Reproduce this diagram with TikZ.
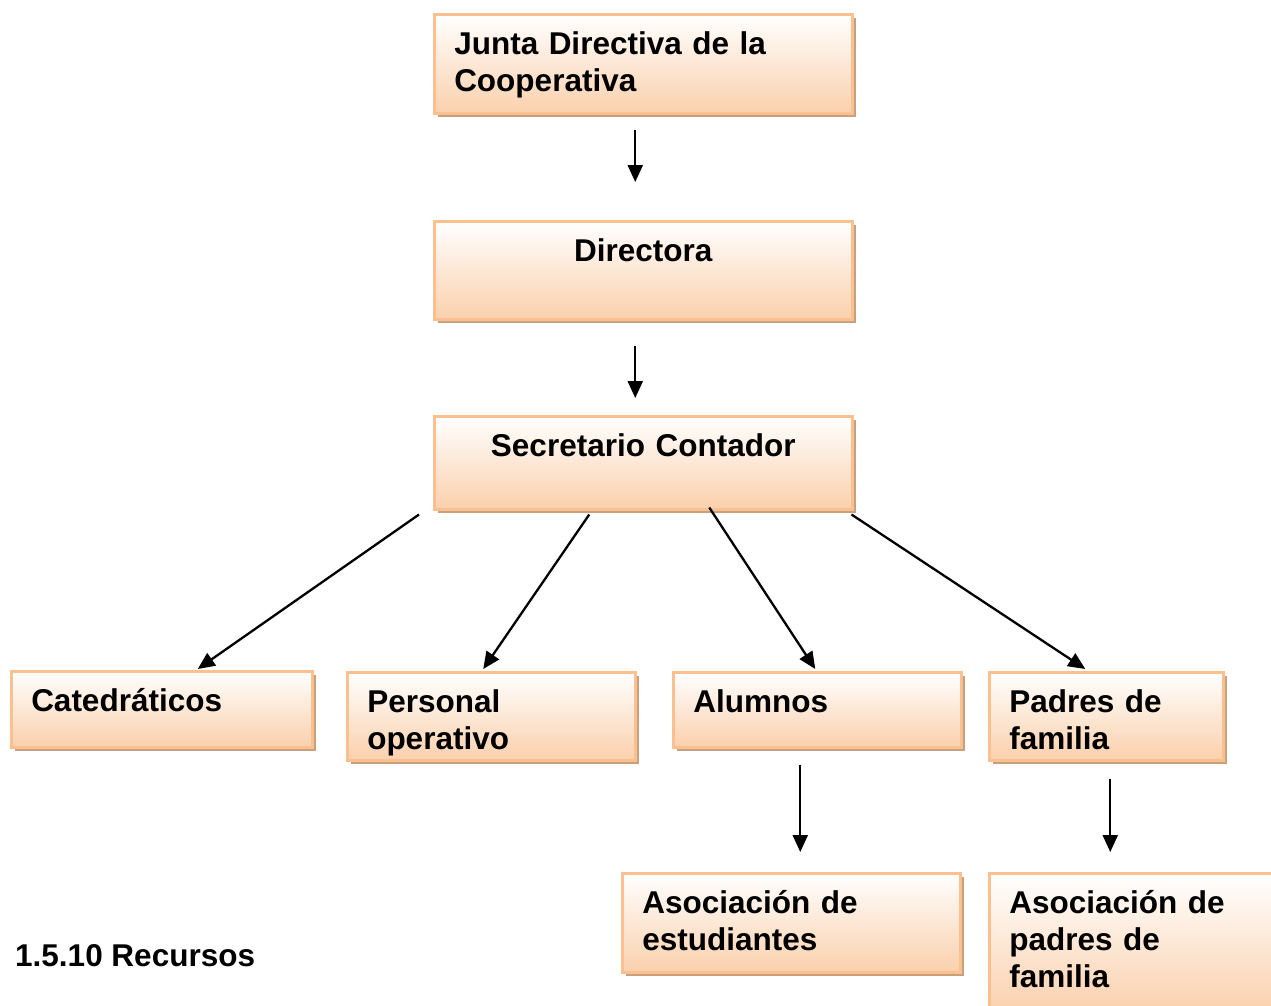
\documentclass[tikz,border=0pt]{standalone}
\usepackage{fontspec}
\setmainfont{Liberation Sans}
\usetikzlibrary{arrows.meta,shadows,calc,positioning}

\definecolor{borde}{RGB}{250,192,143}
\definecolor{fondo}{RGB}{250,208,172}
\definecolor{sombra}{RGB}{201,160,126}

\tikzset{
  caja/.style={anchor=north west, draw=borde, line width=2.5pt,
    top color=white, bottom color=fondo,
    drop shadow={shadow xshift=4pt, shadow yshift=-4pt, fill=sombra, opacity=1},
    inner xsep=20pt, inner ysep=0pt, text height=40pt, align=left,
    font=\fontsize{31.5}{37}\selectfont\bfseries},
  flecha/.style={-{Triangle[width=15pt,length=17pt]}, line width=2.3pt},
}

\begin{document}
\begin{tikzpicture}[x=1pt,y=-1pt]
    \clip (0,0) rectangle (1271,1005);

    % cajas
    \node[caja, text width=378pt, text depth=59pt] (junta) at (433,13) {Junta Directiva de la\\Cooperativa};
    \node[caja, text width=378pt, text depth=58pt, align=center] (directora) at (433,220) {Directora};
    \node[caja, text width=378pt, text depth=53pt, align=center] (secretario) at (433,415) {Secretario Contador};

    \node[caja, text width=261pt, text depth=36pt] (catedraticos) at (10,670) {Catedráticos};
    \node[caja, text width=248pt, text depth=48pt] (personal) at (346,671) {Personal\\operativo};
    \node[caja, text width=248pt, text depth=35pt] (alumnos) at (672,671) {Alumnos};
    \node[caja, text width=194pt, text depth=48pt] (padres) at (988,671) {Padres de\\familia};

    \node[caja, text width=298pt, text depth=59pt] (asocest) at (621,872) {Asociación de\\estudiantes};
    \node[caja, text width=260pt, text depth=100pt] (asocpadres) at (988,872) {Asociación de\\padres de\\familia};

    \node[anchor=base west, inner sep=0pt, font=\fontsize{31.5}{37}\selectfont\bfseries] (recursos) at (15,966) {1.5.10 Recursos};

    % flechas
    \draw[flecha] ($(junta.south)+(-8,15)$) -- ($(directora.north)+(-8,-38)$);
    \draw[flecha] ($(directora.south)+(-8,25)$) -- ($(secretario.north)+(-8,-17)$);

    \draw[flecha] ($(secretario.south west)+(-14,4)$) -- ($(catedraticos.north)+(36,-1)$);
    \draw[flecha] ($(secretario.south)+(-54,4)$) -- ($(personal.north)+(-8,-2)$);
    \draw[flecha] ($(secretario.south)+(66,-3)$) -- ($(alumnos.north)+(-2,-2)$);
    \draw[flecha] ($(secretario.south east)+(-2,4)$) -- ($(padres.north)+(-21,-2)$);

    \draw[flecha] ($(alumnos.south)+(-17,16)$) -- ($(asocest.north)+(9,-20)$);
    \draw[flecha] ($(padres.south)+(4,17)$) -- ($(padres.south |- asocpadres.north)+(4,-20)$);
\end{tikzpicture}
\end{document}
